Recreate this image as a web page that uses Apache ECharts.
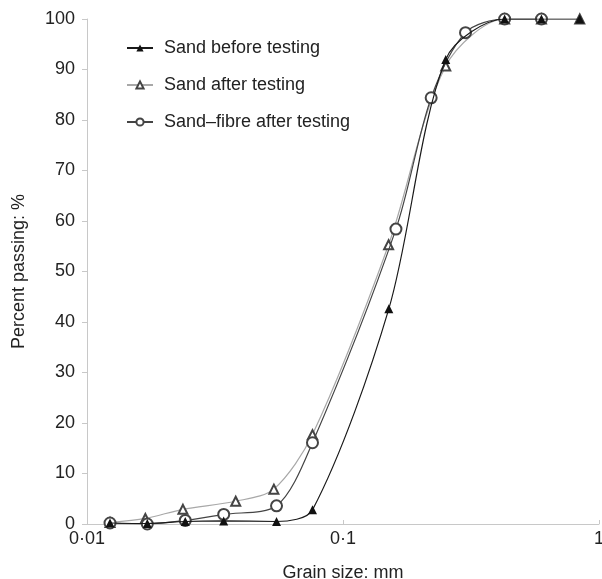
<!DOCTYPE html>
<html>
<head>
<meta charset="utf-8">
<script src="https://cdn.jsdelivr.net/npm/echarts@6/dist/echarts.min.js"></script>
<style>
  html, body { margin: 0; padding: 0; background: #fff; }
  #chart { width: 602px; height: 579px; }
</style>
</head>
<body>
<div id="chart"></div>
<script>
// grain size (mm) and percent passing
const sandBefore = [
  [0.0123, 0.2], [0.0172, 0.1], [0.0242, 0.5], [0.0342, 0.6], [0.055, 0.5],
  [0.076, 2.8], [0.151, 42.6], [0.252, 92], [0.428, 100], [0.596, 100], [0.841, 100]
];
const sandAfter = [
  [0.0123, 0.3], [0.0169, 1.1], [0.0237, 2.9], [0.0381, 4.5], [0.0537, 6.9],
  [0.076, 17.7], [0.1507, 55.3], [0.252, 90.7], [0.428, 100], [0.596, 100], [0.841, 100]
];
const sandFibre = [
  [0.0123, 0.2], [0.0172, 0], [0.0242, 0.7], [0.0342, 1.9], [0.055, 3.6],
  [0.076, 16.1], [0.161, 58.4], [0.221, 84.4], [0.301, 97.3], [0.428, 100], [0.596, 100]
];
const seriesNames = ['Sand before testing', 'Sand after testing', 'Sand\u2013fibre after testing'];

const chart = echarts.init(document.getElementById('chart'));

const font = 'Liberation Sans, Arial, sans-serif';
const axisLabelStyle = { color: '#222', fontSize: 18, fontFamily: font };

const option = {
  animation: false,
  grid: { left: 87, right: 3, top: 19, bottom: 55, containLabel: false, outerBoundsMode: 'none' },
  legend: {
    orient: 'vertical',
    left: 121,
    top: 34,
    itemWidth: 26,
    itemHeight: 9,
    itemGap: 19,
    data: seriesNames,
    textStyle: { color: '#222', fontSize: 18, fontFamily: font, padding: [0, 0, 0, 6] }
  },
  xAxis: {
    type: 'log',
    logBase: 10,
    min: 0.01,
    max: 1,
    name: 'Grain size: mm',
    nameLocation: 'middle',
    nameGap: 40,
    nameTextStyle: axisLabelStyle,
    axisLine: { lineStyle: { color: '#c8c8c8' } },
    axisTick: { show: true, inside: true, length: 4, lineStyle: { color: '#c8c8c8' } },
    minorTick: { show: false },
    splitLine: { show: false },
    axisLabel: {
      ...axisLabelStyle,
      margin: 6,
      formatter: v => String(Math.round(v * 100) / 100).replace('.', '\u00b7')
    }
  },
  yAxis: {
    type: 'value',
    min: 0,
    max: 100,
    interval: 10,
    name: 'Percent passing: %',
    nameLocation: 'middle',
    nameGap: 59,
    nameTextStyle: axisLabelStyle,
    axisLine: { show: true, lineStyle: { color: '#c8c8c8' } },
    axisTick: { show: true, length: 5, lineStyle: { color: '#c8c8c8' } },
    splitLine: { show: false },
    axisLabel: { ...axisLabelStyle, margin: 12 }
  },
  series: [
    {
      name: seriesNames[1],
      type: 'line',
      data: sandAfter,
      smooth: 0.3,
      symbol: 'emptyTriangle',
      symbolSize: 9,
      z: 2,
      lineStyle: { color: '#a8a8a8', width: 1.2 },
      itemStyle: { color: '#444', borderColor: '#444', borderWidth: 1 }
    },
    {
      name: seriesNames[2],
      type: 'line',
      data: sandFibre,
      smooth: 0.3,
      symbol: 'emptyCircle',
      symbolSize: 11,
      z: 3,
      lineStyle: { color: '#444', width: 1.2 },
      itemStyle: { color: '#444', borderColor: '#444', borderWidth: 1 }
    },
    {
      name: seriesNames[0],
      type: 'line',
      data: sandBefore,
      smooth: 0.3,
      symbol: 'triangle',
      symbolSize: 9,
      z: 4,
      lineStyle: { color: '#1a1a1a', width: 1.2 },
      itemStyle: { color: '#111' }
    }
  ]
};

chart.setOption(option);
</script>
</body>
</html>
